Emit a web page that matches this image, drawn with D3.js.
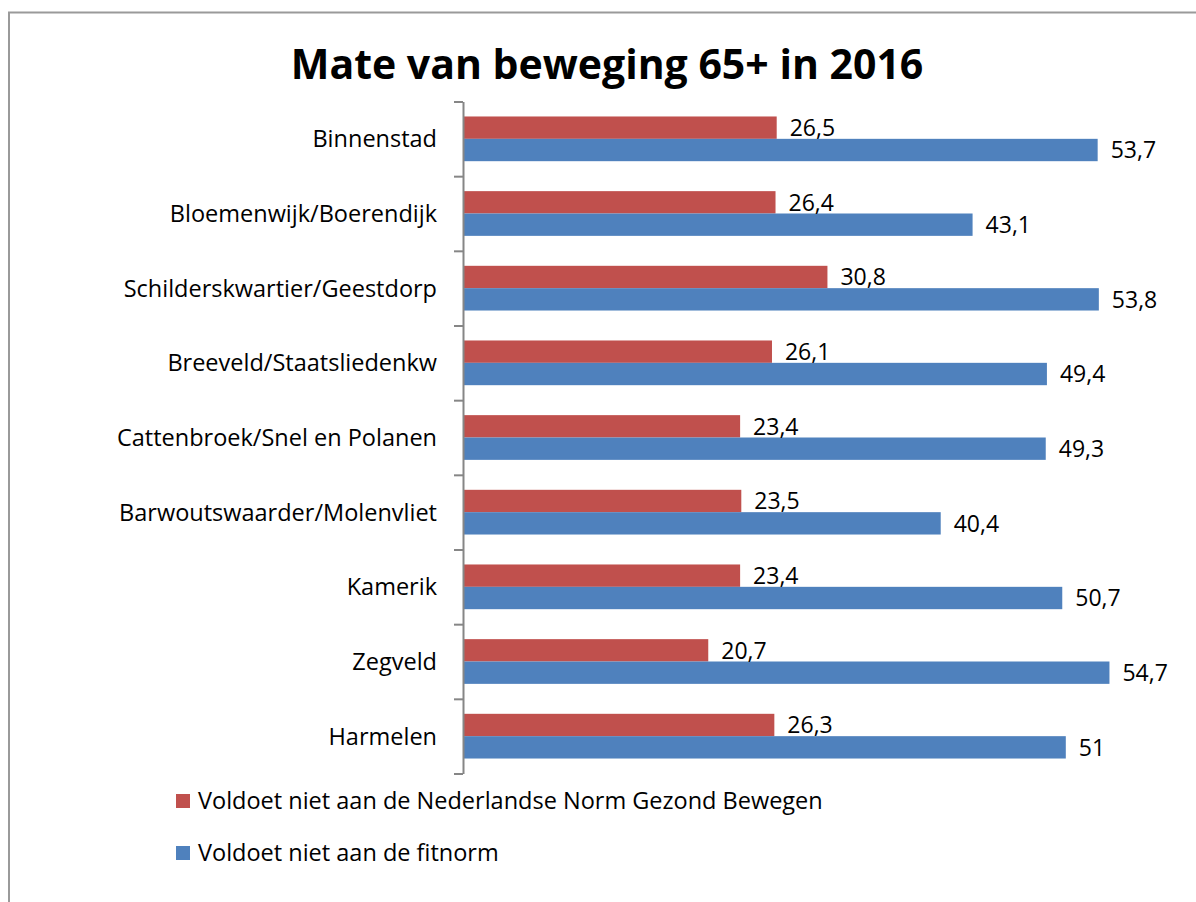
<!DOCTYPE html>
<html>
<head>
<meta charset="utf-8">
<script src="https://cdn.jsdelivr.net/npm/d3@7"></script>
<style>
  html, body { margin: 0; padding: 0; background: #fff; }
  svg { display: block; }
  text { font-family: "Open Sans", Lato, sans-serif; fill: #000; }
</style>
</head>
<body>
<svg id="chart" width="1196" height="902"></svg>
<script>
const title = "Mate van beweging 65+ in 2016";
const categories = [
  "Binnenstad",
  "Bloemenwijk/Boerendijk",
  "Schilderskwartier/Geestdorp",
  "Breeveld/Staatsliedenkw",
  "Cattenbroek/Snel en Polanen",
  "Barwoutswaarder/Molenvliet",
  "Kamerik",
  "Zegveld",
  "Harmelen"
];
const seriesNames = [
  "Voldoet niet aan de Nederlandse Norm Gezond Bewegen",
  "Voldoet niet aan de fitnorm"
];
const nngbValues = [26.5, 26.4, 30.8, 26.1, 23.4, 23.5, 23.4, 20.7, 26.3];
const fitnormValues = [53.7, 43.1, 53.8, 49.4, 49.3, 40.4, 50.7, 54.7, 51];
const seriesColors = ["#C0504D", "#4F81BD"];

const series = [nngbValues, fitnormValues];
const fmt = v => String(v).replace(".", ",");

const svg = d3.select("#chart");

// outer frame (left + top border)
svg.append("path")
  .attr("d", "M9,902 V12.5 H1196")
  .attr("fill", "none")
  .attr("stroke", "#9a9a9a")
  .attr("stroke-width", 2);

// title
svg.append("text")
  .attr("x", 607).attr("y", 79)
  .attr("text-anchor", "middle")
  .attr("font-weight", "bold")
  .attr("font-size", 41)
  .text(title);

const x = d3.scaleLinear().domain([0, 60]).range([464, 1172]);
const y = d3.scaleBand().domain(categories).range([101.5, 773.5]).padding(0);
const ySub = d3.scaleBand().domain(d3.range(series.length))
  .range([0, y.bandwidth()]).paddingInner(0).paddingOuter(0.67);

// bars
const groups = svg.append("g").selectAll("g")
  .data(categories)
  .join("g")
  .attr("transform", d => `translate(0,${y(d)})`);

groups.selectAll("rect")
  .data((d, i) => series.map((s, k) => ({ k, v: s[i] })))
  .join("rect")
  .attr("x", x(0))
  .attr("y", d => ySub(d.k))
  .attr("width", d => x(d.v) - x(0))
  .attr("height", ySub.bandwidth())
  .attr("fill", d => seriesColors[d.k]);

groups.selectAll("text.val")
  .data((d, i) => series.map((s, k) => ({ k, v: s[i] })))
  .join("text")
  .attr("class", "val")
  .attr("x", d => x(d.v) + 13)
  .attr("y", d => ySub(d.k) + ySub.bandwidth() / 2)
  .attr("dy", "0.36em")
  .attr("font-size", 23)
  .text(d => fmt(d.v));

// axis with ticks at category boundaries
const yIdx = d3.scaleLinear().domain([0, categories.length]).range(y.range());
const axis = svg.append("g")
  .attr("transform", `translate(${x(0) - 1},0)`)
  .call(d3.axisLeft(yIdx).tickValues(d3.range(categories.length + 1))
    .tickFormat("").tickSize(9).tickSizeOuter(0));
axis.select(".domain").attr("stroke", "#868686").attr("stroke-width", 2);
axis.selectAll(".tick line").attr("stroke", "#868686").attr("stroke-width", 2);

// category labels
svg.append("g").selectAll("text")
  .data(categories)
  .join("text")
  .attr("x", 437)
  .attr("y", d => y(d) + y.bandwidth() / 2)
  .attr("dy", "0.36em")
  .attr("text-anchor", "end")
  .attr("font-size", 23.5)
  .text(d => d);

// legend
const legend = svg.append("g").selectAll("g")
  .data(seriesNames)
  .join("g")
  .attr("transform", (d, i) => `translate(176,${801 + i * 52})`);
legend.append("rect")
  .attr("x", 0).attr("y", -7)
  .attr("width", 14).attr("height", 14)
  .attr("fill", (d, i) => seriesColors[i]);
legend.append("text")
  .attr("x", 22).attr("y", 0)
  .attr("dy", "0.36em")
  .attr("font-size", 23.5)
  .text(d => d);
</script>
</body>
</html>
